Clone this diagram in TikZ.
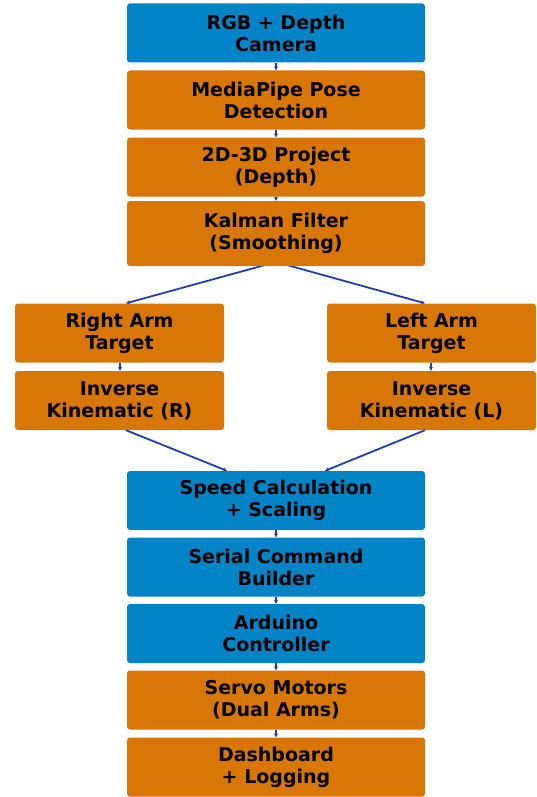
\documentclass[tikz,border=0pt]{standalone}
\usepackage{fontspec}
\setmainfont{DejaVu Sans}
\usetikzlibrary{arrows.meta,backgrounds}
\definecolor{bluebox}{HTML}{0284C7}
\definecolor{orangebox}{HTML}{D97706}
\definecolor{edgeblue}{HTML}{1E40AF}
\tikzset{
  box/.style={rectangle, rounded corners=3pt, inner sep=0pt, text=black,
    minimum width=298pt, minimum height=59pt, align=center,
    font=\bfseries\fontsize{19}{22}\selectfont},
  sidebox/.style={box, minimum width=209pt},
  bluefill/.style={fill=bluebox},
  orangefill/.style={fill=orangebox},
  conn/.style={draw=edgeblue, line width=1.8pt, -{Stealth[length=4pt,width=4pt]}},
}
\begin{document}
\begin{tikzpicture}[x=1pt,y=-1pt]
\useasboundingbox (0,0) rectangle (536,797);
\node[box,bluefill]   (cam)  at (276,33)   {RGB + Depth\\Camera};
\node[box,orangefill] (mp)   at (276,100)  {MediaPipe Pose\\Detection};
\node[box,orangefill] (proj) at (276,167)  {2D-3D Project\\(Depth)};
\node[box,orangefill,minimum height=65pt] (kal) at (276,233.5) {Kalman Filter\\(Smoothing)};
\node[sidebox,orangefill] (rat) at (119.5,333)   {Right Arm\\Target};
\node[sidebox,orangefill] (ikr) at (119.5,400.5) {Inverse\\Kinematic (R)};
\node[sidebox,orangefill] (lat) at (431.5,333)   {Left Arm\\Target};
\node[sidebox,orangefill] (ikl) at (431.5,400.5) {Inverse\\Kinematic (L)};
\node[box,bluefill]   (spd)  at (276,500.5) {Speed Calculation\\+ Scaling};
\node[box,bluefill]   (ser)  at (276,567)   {Serial Command\\Builder};
\node[box,bluefill]   (ard)  at (276,633.5) {Arduino\\Controller};
\node[box,orangefill] (srv)  at (276,700)   {Servo Motors\\(Dual Arms)};
\node[box,orangefill] (dash) at (276,767)   {Dashboard\\+ Logging};
\coordinate (split) at (276,262);
\begin{scope}[on background layer]
\draw[conn] (split) -- ([xshift=6.5pt]rat.north);
\draw[conn] (split) -- ([xshift=-6.5pt]lat.north);
\end{scope}
\draw[conn] (cam.south) -- (mp.north);
\draw[conn] (mp.south) -- (proj.north);
\draw[conn] (proj.south) -- (kal.north);
\draw[conn] ([xshift=0.5pt]rat.south) -- ([xshift=0.5pt]ikr.north);
\draw[conn] ([xshift=-0.5pt]lat.south) -- ([xshift=-0.5pt]ikl.north);
\draw[conn] ([xshift=6.5pt]ikr.south) -- ([xshift=-49pt]spd.north);
\draw[conn] ([xshift=-6.5pt]ikl.south) -- ([xshift=49pt]spd.north);
\draw[conn] (spd.south) -- (ser.north);
\draw[conn] (ser.south) -- (ard.north);
\draw[conn] (ard.south) -- (srv.north);
\draw[conn] (srv.south) -- (dash.north);
\end{tikzpicture}
\end{document}
